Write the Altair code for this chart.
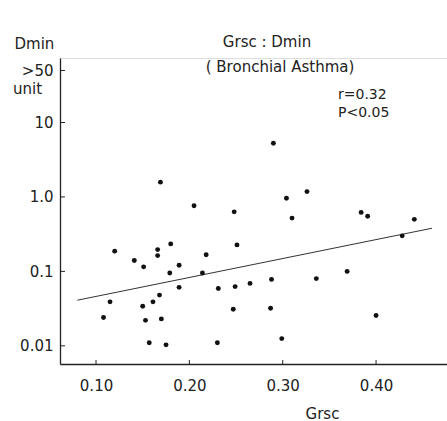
import altair as alt
import pandas as pd

# scatter points (Grsc, Dmin)
grsc = [0.169, 0.205, 0.120, 0.166, 0.180, 0.141, 0.166, 0.151, 0.189, 0.218,
        0.179, 0.214, 0.189, 0.231, 0.115, 0.168, 0.150, 0.161, 0.108, 0.153,
        0.170, 0.157, 0.175, 0.230, 0.290, 0.326, 0.304, 0.248, 0.310, 0.384,
        0.391, 0.441, 0.428, 0.251, 0.369, 0.336, 0.288, 0.265, 0.249, 0.247,
        0.287, 0.400, 0.299]
dmin = [1.58, 0.76, 0.187, 0.196, 0.234, 0.14, 0.163, 0.115, 0.121, 0.167,
        0.095, 0.095, 0.061, 0.059, 0.039, 0.048, 0.034, 0.039, 0.024, 0.022,
        0.023, 0.011, 0.0103, 0.011, 5.26, 1.18, 0.96, 0.63, 0.52, 0.62,
        0.55, 0.50, 0.30, 0.227, 0.10, 0.080, 0.078, 0.069, 0.0625, 0.031,
        0.032, 0.0255, 0.0125]

# regression line endpoints
line_x = [0.08, 0.46]
line_y = [0.041, 0.38]

x_ticks = [0.1, 0.2, 0.3, 0.4]
y_ticks = [0.01, 0.1, 1, 10, 50]

FONT = "DejaVu Sans"
FS = 15
INK = "#222222"
W, H = 387, 306

pts = pd.DataFrame({"x": grsc, "y": dmin})
ln = pd.DataFrame({"x": line_x, "y": line_y})
xt = pd.DataFrame({"x": x_ticks})
yt = pd.DataFrame({"y": y_ticks})

xscale = alt.Scale(domain=[0.0614, 0.476], nice=False, zero=False)
yscale = alt.Scale(type="log", domain=[0.0057, 73.5], nice=False)

xaxis = alt.Axis(values=x_ticks, format=".2f", tickSize=0, labelPadding=14,
                 labelFont=FONT, labelFontSize=FS, labelColor=INK,
                 domainColor=INK, domainWidth=1.3, grid=False,
                 title="Grsc", titleFont=FONT, titleFontSize=FS, titleColor=INK,
                 titleFontWeight="normal", titleX=262, titleY=49,
                 titleAlign="center", titleBaseline="middle")
yaxis = alt.Axis(values=y_ticks, tickSize=0, labelPadding=7,
                 labelExpr="datum.value >= 50 ? '>50' : datum.value == 10 ? '10' : datum.value == 1 ? '1.0' : datum.value == 0.1 ? '0.1' : '0.01'",
                 labelFont=FONT, labelFontSize=FS, labelColor=INK,
                 domainColor=INK, domainWidth=1.3, grid=False,
                 title="Dmin", titleFont=FONT, titleFontSize=FS, titleColor=INK,
                 titleFontWeight="normal", titleAngle=0, titleX=-46, titleY=-15,
                 titleAlign="left", titleBaseline="middle")

points = alt.Chart(pts).mark_circle(size=24, color="#111111", opacity=1).encode(
    x=alt.X("x:Q", scale=xscale, axis=xaxis),
    y=alt.Y("y:Q", scale=yscale, axis=yaxis),
)

reg = alt.Chart(ln).mark_line(color="#333333", strokeWidth=1).encode(
    x=alt.X("x:Q", scale=xscale),
    y=alt.Y("y:Q", scale=yscale),
)

xtick = alt.Chart(xt).mark_rule(color=INK, strokeWidth=1).encode(
    x=alt.X("x:Q", scale=xscale),
    y=alt.value(H),
    y2=alt.value(H - 4),
)
ytick = alt.Chart(yt).mark_rule(color=INK, strokeWidth=1).encode(
    y=alt.Y("y:Q", scale=yscale),
    x=alt.value(0),
    x2=alt.value(5),
)

def label(text, x, y, align="left", size=FS):
    return alt.Chart(pd.DataFrame({"t": [text]})).mark_text(
        font=FONT, fontSize=size, color=INK, align=align, baseline="middle"
    ).encode(text="t:N", x=alt.value(x), y=alt.value(y))

texts = [
    label("Grsc : Dmin", 207, -16, "center"),
    label("( Bronchial Asthma)", 220, 9, "center"),
    label("r=0.32", 278, 37, size=14),
    label("P<0.05", 278, 55, size=14),
    label("unit", -47, 31),
]

chart = alt.layer(reg, xtick, ytick, points, *texts).properties(
    width=W, height=H,
    autosize=alt.AutoSizeParams(type="none"),
    padding={"left": 60, "top": 58, "right": 0, "bottom": 57},
).configure_view(stroke=None).configure(background="white")

chart.save("out.html", embed_options={"renderer": "svg", "actions": False})
